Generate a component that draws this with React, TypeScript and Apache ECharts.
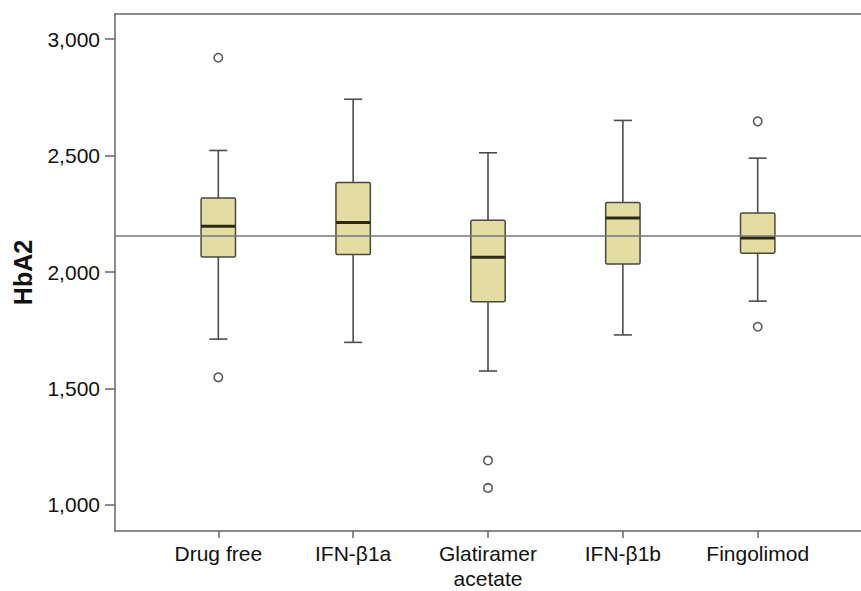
import React, { useEffect, useRef } from "react";
import * as echarts from "echarts";

const categories = ["Drug free", "IFN-\u03b21a", "Glatiramer\nacetate", "IFN-\u03b21b", "Fingolimod"];
const whiskerLow = [1712, 1698, 1575, 1730, 1875];
const q1Values = [2065, 2075, 1872, 2035, 2081];
const medianValues = [2197, 2213, 2064, 2232, 2146];
const q3Values = [2318, 2384, 2222, 2299, 2253];
const whiskerHigh = [2522, 2742, 2512, 2651, 2489];
const outliers: [number, number][] = [
  [0, 2920],
  [0, 1548],
  [2, 1191],
  [2, 1073],
  [4, 2647],
  [4, 1765],
];
const referenceValue = 2157;
const yTicks = [1000, 1500, 2000, 2500, 3000];
const yLabel = "HbA2";

const fmt = (v: number) => String(Math.round(v)).replace(/\B(?=(\d{3})+(?!\d))/g, ",");

export default function App() {
  const ref = useRef<HTMLDivElement>(null);
  useEffect(() => {
    if (!ref.current) return;
    const chart = echarts.init(ref.current, null, { renderer: "svg" });
    const boxData = categories.map((_, i) => [
      i,
      whiskerLow[i],
      q1Values[i],
      medianValues[i],
      q3Values[i],
      whiskerHigh[i],
    ]);
    const axisColor = "#666";
    const font = "'Liberation Sans', Arial, sans-serif";
    chart.setOption({
      animation: false,
      backgroundColor: "#fff",
      grid: { left: 115, top: 14, right: -12, bottom: 57, containLabel: false },
      xAxis: [
        {
          type: "value",
          min: -0.766,
          max: 4.766,
          position: "bottom",
          axisLine: { show: true, onZero: false, lineStyle: { color: axisColor, width: 1.5 } },
          axisTick: { show: true, length: 7, customValues: [0, 1, 2, 3, 4], lineStyle: { color: axisColor, width: 1.5 } },
          axisLabel: {
            show: true,
            customValues: [0, 1, 2, 3, 4],
            formatter: (v: number) => categories[Math.round(v)] ?? "",
            color: "#111",
            fontSize: 21,
            fontFamily: font,
            lineHeight: 25,
            margin: 10,
          },
          splitLine: { show: false },
        },
        {
          type: "value",
          min: -0.766,
          max: 4.766,
          position: "top",
          axisLine: { show: true, onZero: false, lineStyle: { color: axisColor, width: 1.5 } },
          axisTick: { show: false },
          axisLabel: { show: false },
          splitLine: { show: false },
        },
      ],
      yAxis: {
        type: "value",
        min: 888,
        max: 3108,
        position: "left",
        name: yLabel,
        nameLocation: "middle",
        nameGap: 80,
        nameRotate: 90,
        nameTextStyle: { fontSize: 25, fontWeight: "bold", color: "#111", fontFamily: font },
        axisLine: { show: true, onZero: false, lineStyle: { color: axisColor, width: 1.5 } },
        axisTick: { show: true, length: 10, customValues: yTicks, lineStyle: { color: axisColor, width: 1.5 } },
        axisLabel: {
          customValues: yTicks,
          formatter: (v: number) => fmt(v),
          color: "#111",
          fontSize: 21,
          fontFamily: font,
          margin: 15,
        },
        splitLine: { show: false },
      },
      series: [
        {
          type: "custom",
          xAxisIndex: 0,
          encode: { x: 0, y: [1, 2, 3, 4, 5] },
          data: boxData,
          z: 2,
          renderItem: (params: any, api: any) => {
            const x = api.value(0);
            const lo = api.coord([x, api.value(1)]);
            const q1 = api.coord([x, api.value(2)]);
            const md = api.coord([x, api.value(3)]);
            const q3 = api.coord([x, api.value(4)]);
            const hi = api.coord([x, api.value(5)]);
            const band = api.size([1, 0])[0];
            const bw = band * 0.255;
            const cw = band * 0.134;
            const cx = q1[0];
            const wStyle = { stroke: "#4d4d4d", lineWidth: 1.6 };
            return {
              type: "group",
              children: [
                { type: "line", shape: { x1: cx, y1: hi[1], x2: cx, y2: q3[1] }, style: wStyle },
                { type: "line", shape: { x1: cx - cw / 2, y1: hi[1], x2: cx + cw / 2, y2: hi[1] }, style: wStyle },
                { type: "line", shape: { x1: cx, y1: lo[1], x2: cx, y2: q1[1] }, style: wStyle },
                { type: "line", shape: { x1: cx - cw / 2, y1: lo[1], x2: cx + cw / 2, y2: lo[1] }, style: wStyle },
                {
                  type: "rect",
                  shape: { x: cx - bw / 2, y: q3[1], width: bw, height: q1[1] - q3[1], r: 1.5 },
                  style: { fill: "#e3dca3", stroke: "#4a4a3c", lineWidth: 1.5 },
                },
                {
                  type: "line",
                  shape: { x1: cx - bw / 2, y1: md[1], x2: cx + bw / 2, y2: md[1] },
                  style: { stroke: "#2b2914", lineWidth: 3 },
                },
              ],
            };
          },
        },
        {
          type: "scatter",
          xAxisIndex: 0,
          data: outliers,
          symbol: "circle",
          symbolSize: 8.5,
          z: 3,
          itemStyle: { color: "#fff", borderColor: "#555", borderWidth: 1.5, opacity: 1 },
          markLine: {
            silent: true,
            symbol: "none",
            label: { show: false },
            lineStyle: { color: "#777", width: 1.6, type: "solid" },
            data: [{ yAxis: referenceValue }],
          },
        },
      ],
    });
    return () => chart.dispose();
  }, []);
  return (
    <div
      ref={ref}
      style={{ position: "fixed", left: 0, top: 0, width: 861, height: 591 }}
    />
  );
}
